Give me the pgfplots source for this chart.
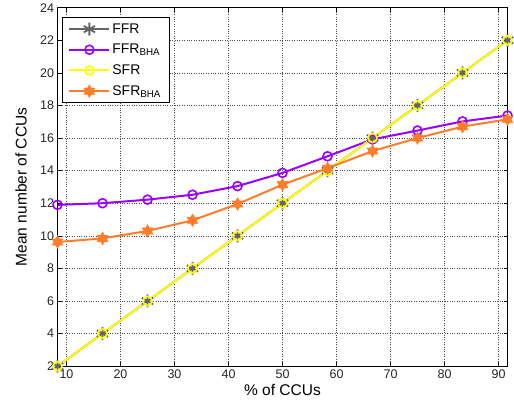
\documentclass[border=0pt]{standalone}
\usepackage{pgfplots}
\pgfplotsset{compat=1.18}
\usepackage{fontspec}
\setmainfont{Liberation Sans}
\usetikzlibrary{plotmarks}

\definecolor{ffrgray}{RGB}{100,100,100}
\definecolor{bhapurple}{RGB}{153,0,255}
\definecolor{sfryellow}{RGB}{255,255,0}
\definecolor{bhaorange}{RGB}{255,125,40}

% six-pointed filled star, like MATLAB's hexagram
\pgfdeclareplotmark{hexagram}{%
  \pgfpathmoveto{\pgfqpointpolar{90}{\pgfplotmarksize}}%
  \pgfpathlineto{\pgfqpointpolar{210}{\pgfplotmarksize}}%
  \pgfpathlineto{\pgfqpointpolar{330}{\pgfplotmarksize}}%
  \pgfpathclose
  \pgfpathmoveto{\pgfqpointpolar{270}{\pgfplotmarksize}}%
  \pgfpathlineto{\pgfqpointpolar{30}{\pgfplotmarksize}}%
  \pgfpathlineto{\pgfqpointpolar{150}{\pgfplotmarksize}}%
  \pgfpathclose
  \pgfusepathqfillstroke}

\begin{document}
\begin{tikzpicture}
\begin{axis}[
    scale only axis,
    width=450bp, height=358.5bp,
    at={(0,0)}, anchor=south west,
    xmin=8.3333, xmax=91.6667,
    ymin=2, ymax=24,
    xtick={10,20,...,90},
    ytick={2,4,...,24},
    tick align=inside,
    major tick length=4bp,
    xtick pos=both, ytick pos=both,
    grid=major,
    major grid style={black!70, dotted, line width=0.5pt},
    axis line style={black, line width=0.8pt},
    tick style={black, line width=0.6pt},
    /pgf/number format/assume math mode=true,
    ticklabel style={font=\fontsize{12.5bp}{14bp}\selectfont, text=black!85},
    xlabel={\% of CCUs},
    ylabel={Mean number of CCUs},
    label style={font=\fontsize{15.5bp}{17bp}\selectfont},
    xlabel style={at={(axis description cs:0.5,-0.067)}, anchor=center},
    ylabel style={at={(axis description cs:-0.081,0.5)}, anchor=center},
    legend cell align=left,
    legend style={at={(axis description cs:0.01,0.9735)}, anchor=north west,
        draw=black, line width=0.8pt, fill=white,
        font=\fontsize{14bp}{16bp}\selectfont,
        inner xsep=6bp, inner ysep=4bp,
        row sep=5.5bp},
    legend image code/.code={%
        \draw[mark repeat=2,mark phase=2]
        plot coordinates {(0bp,0bp) (20bp,0bp) (40bp,0bp)};},
    every axis plot/.append style={line width=2pt},
]
\addplot[ffrgray, mark=asterisk, mark size=6.5bp, mark options={line width=1.8pt}] coordinates {
(8.3333,2) (16.6667,4) (25,6) (33.3333,8) (41.6667,10) (50,12)
(58.3333,14) (66.6667,16) (75,18) (83.3333,20) (91.6667,22)};
\addlegendentry{FFR}
\addplot[bhapurple, mark=o, mark size=4.5bp, mark options={line width=1.6pt}] coordinates {
(8.3333,11.9) (16.6667,12.0) (25,12.22) (33.3333,12.52) (41.6667,13.05) (50,13.86)
(58.3333,14.88) (66.6667,15.92) (75,16.46) (83.3333,17.02) (91.6667,17.38)};
\addlegendentry{FFR\textsubscript{BHA}}
\addplot[sfryellow, mark=o, mark size=4.5bp, mark options={line width=1.6pt}] coordinates {
(8.3333,2) (16.6667,4) (25,6) (33.3333,8) (41.6667,10) (50,12)
(58.3333,14) (66.6667,16) (75,18) (83.3333,20) (91.6667,22)};
\addlegendentry{SFR}
\addplot[bhaorange, mark=hexagram, mark size=6bp, mark options={line width=0.8pt, fill=bhaorange}] coordinates {
(8.3333,9.62) (16.6667,9.84) (25,10.3) (33.3333,10.95) (41.6667,11.95) (50,13.14)
(58.3333,14.15) (66.6667,15.2) (75,16.0) (83.3333,16.7) (91.6667,17.15)};
\addlegendentry{SFR\textsubscript{BHA}}
\end{axis}
\path[use as bounding box] (-57.5bp,-39bp) rectangle (456.5bp,363bp);
\end{tikzpicture}
\end{document}
